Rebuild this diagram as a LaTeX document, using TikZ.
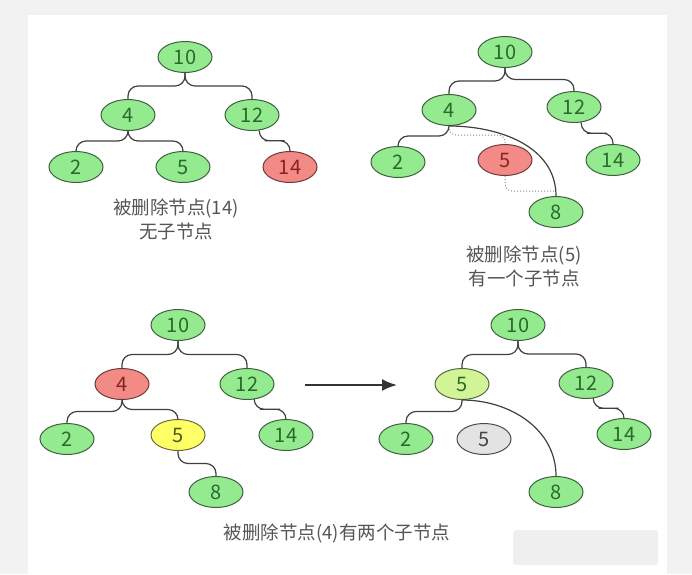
\documentclass[tikz,border=0pt]{standalone}
\usepackage{fontspec}
\setmainfont{Noto Sans CJK SC}
\usetikzlibrary{shapes.geometric,calc,arrows.meta}
\definecolor{bgout}{HTML}{F2F2F2}
\definecolor{wmc}{HTML}{EFEFEF}
\definecolor{gfill}{HTML}{93EA8F}
\definecolor{gline}{HTML}{3F5F3F}
\definecolor{gtext}{HTML}{2A6A2A}
\definecolor{rfill}{HTML}{F28A85}
\definecolor{rline}{HTML}{6E3A3A}
\definecolor{rtext}{HTML}{8A2222}
\definecolor{yfill}{HTML}{FFFF66}
\definecolor{yline}{HTML}{6A6A3A}
\definecolor{ytext}{HTML}{4A5A22}
\definecolor{lgfill}{HTML}{D2F396}
\definecolor{lgline}{HTML}{4F6A3F}
\definecolor{grfill}{HTML}{E3E3E3}
\definecolor{grline}{HTML}{4A4A4A}
\definecolor{grtext}{HTML}{444444}
\definecolor{eline}{HTML}{404040}
\definecolor{dline}{HTML}{8A8A8A}
\definecolor{lblc}{HTML}{555555}
\definecolor{arrc}{HTML}{333333}
\newcommand\skedge[3][]{\draw[edge,#1] (#2) |- ($(#2)!.5!(#3)$) -| (#3);}
\tikzset{
  nd/.style={ellipse, draw, line width=1pt, minimum width=54pt, minimum height=31pt,
    inner sep=0pt, font=\fontsize{20}{20}\selectfont},
  gn/.style={nd, fill=gfill, draw=gline, text=gtext},
  rn/.style={nd, fill=rfill, draw=rline, text=rtext},
  yn/.style={nd, fill=yfill, draw=yline, text=ytext},
  lgn/.style={nd, fill=lgfill, draw=lgline, text=gtext},
  grn/.style={nd, fill=grfill, draw=grline, text=grtext},
  edge/.style={draw=eline, line width=1.2pt, rounded corners=10pt},
  dotedge/.style={draw=dline, line width=1pt, dotted, rounded corners=7pt},
  lbl/.style={text=lblc, font=\fontsize{18.5}{18.5}\selectfont, inner sep=0pt},
  bigarrow/.style={draw=arrc, line width=2pt, -{Latex[length=15pt,width=12pt]}}
}
\begin{document}
\begin{tikzpicture}[x=1pt,y=-1pt]
\useasboundingbox (0,0) rectangle (692,574);
\fill[bgout] (0,0) rectangle (692,574);
\fill[white] (28,15) rectangle (667,574);
\fill[wmc, rounded corners=3pt] (513,530) rectangle (658,565);

% panel 1
\node[gn] (a10) at (185,57) {10};
\node[gn] (a4) at (128,115) {4};
\node[gn] (a12) at (252,115) {12};
\node[gn] (a2) at (76,167) {2};
\node[gn] (a5) at (183,167) {5};
\node[rn] (a14) at (290,167) {14};
\skedge{a10.south}{a4.north}
\skedge{a10.south}{a12.north}
\skedge{a4.south}{a2.north}
\skedge{a4.south}{a5.north}
\skedge{a12.-65}{a14.north}
\node[lbl] (t1a) at (176,208) {被删除节点(14)};
\node[lbl] (t1b) at (176,231) {无子节点};

% panel 2
\node[gn] (b10) at (505,52) {10};
\node[gn] (b4) at (449,110) {4};
\node[gn] (b12) at (574,107) {12};
\node[gn] (b2) at (398,162) {2};
\node[rn] (b5) at (505,160) {5};
\node[gn] (b14) at (613,160) {14};
\node[gn] (b8) at (556,212) {8};
\coordinate (b8j) at ($(b8.north)+(0,-5)$);
\skedge{b10.south}{b4.north}
\skedge{b10.south}{b12.north}
\skedge{b4.south}{b2.north}
\skedge{b12.-65}{b14.north}
\draw[dotedge] (b4.south) |- ($(b4.south)!.5!(b5.north)$) -| (b5.north);
\draw[dotedge] (b5.south) |- (b8j);
\draw[edge] (b4.south) to[out=0,in=90] (b8.north);
\node[lbl] (t2a) at (524,255) {被删除节点(5)};
\node[lbl] (t2b) at (524,278) {有一个子节点};

% panel 3
\node[gn] (c10) at (178,325) {10};
\node[rn] (c4) at (122,384) {4};
\node[gn] (c12) at (247,384) {12};
\node[gn] (c2) at (67,439) {2};
\node[yn] (c5) at (178,435) {5};
\node[gn] (c14) at (286,435) {14};
\node[gn] (c8) at (216,492) {8};
\skedge{c10.south}{c4.north}
\skedge{c10.south}{c12.north}
\skedge{c4.south}{c2.north}
\skedge{c4.south}{c5.north}
\skedge{c12.-65}{c14.north}
\skedge{c5.south}{c8.north}

% arrow
\coordinate (arS) at (305,385);
\coordinate (arE) at (397,385);
\draw[bigarrow] (arS) -- (arE);

% panel 4
\node[gn] (d10) at (518,325) {10};
\node[lgn] (d5) at (462,384) {5};
\node[gn] (d12) at (586,383) {12};
\node[gn] (d2) at (406,439) {2};
\node[grn] (d5g) at (484,439) {5};
\node[gn] (d14) at (624,434) {14};
\node[gn] (d8) at (556,492) {8};
\skedge{d10.south}{d5.north}
\skedge{d10.south}{d12.north}
\skedge{d5.south}{d2.north}
\skedge{d12.-65}{d14.north}
\draw[edge] (d5.south) to[out=0,in=90] (d8.north);

\node[lbl] (t3) at (337,533) {被删除节点(4)有两个子节点};
\end{tikzpicture}
\end{document}
